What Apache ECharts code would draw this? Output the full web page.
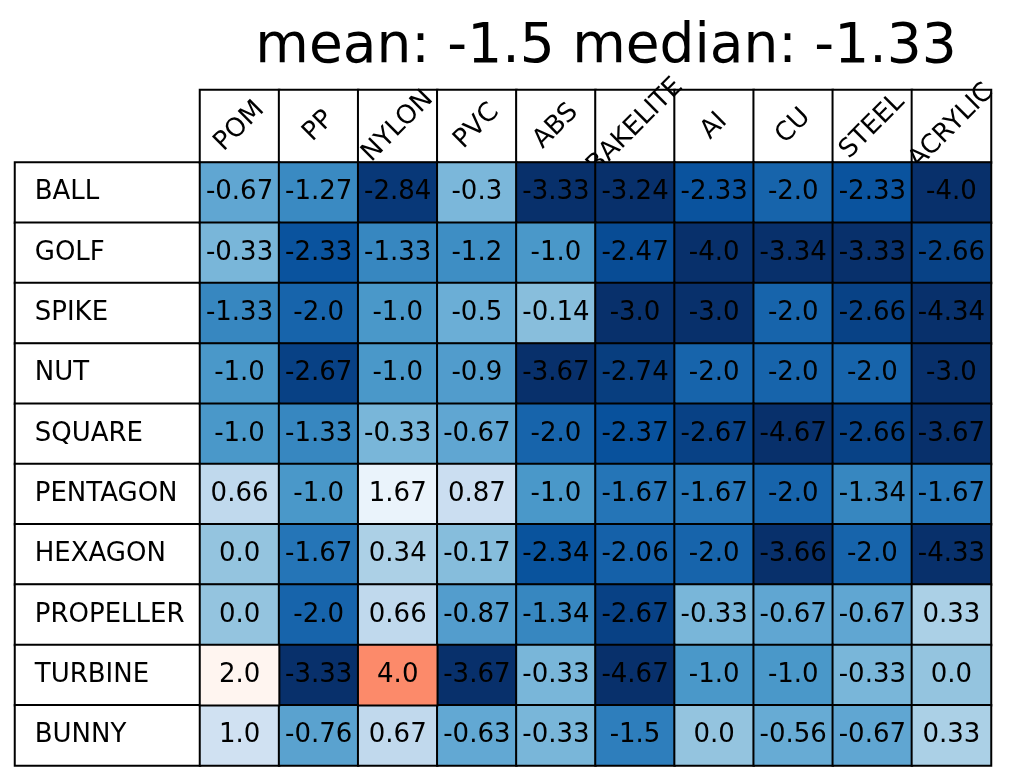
<!DOCTYPE html>
<html><head><meta charset="utf-8">
<script src="https://cdn.jsdelivr.net/npm/echarts@6/dist/echarts.min.js"></script>
<style>html,body{margin:0;padding:0;background:#fff}#c{width:1029px;height:772px}</style>
</head><body><div id="c"></div>
<script>
const titleText = 'mean: -1.5 median: -1.33';
const columns = ['POM','PP','NYLON','PVC','ABS','BAKELITE','AI','CU','STEEL','ACRYLIC'];
const rows = ['BALL','GOLF','SPIKE','NUT','SQUARE','PENTAGON','HEXAGON','PROPELLER','TURBINE','BUNNY'];
const vBALL      = [-0.67,-1.27,-2.84,-0.3,-3.33,-3.24,-2.33,-2.0,-2.33,-4.0];
const vGOLF      = [-0.33,-2.33,-1.33,-1.2,-1.0,-2.47,-4.0,-3.34,-3.33,-2.66];
const vSPIKE     = [-1.33,-2.0,-1.0,-0.5,-0.14,-3.0,-3.0,-2.0,-2.66,-4.34];
const vNUT       = [-1.0,-2.67,-1.0,-0.9,-3.67,-2.74,-2.0,-2.0,-2.0,-3.0];
const vSQUARE    = [-1.0,-1.33,-0.33,-0.67,-2.0,-2.37,-2.67,-4.67,-2.66,-3.67];
const vPENTAGON  = [0.66,-1.0,1.67,0.87,-1.0,-1.67,-1.67,-2.0,-1.34,-1.67];
const vHEXAGON   = [0.0,-1.67,0.34,-0.17,-2.34,-2.06,-2.0,-3.66,-2.0,-4.33];
const vPROPELLER = [0.0,-2.0,0.66,-0.87,-1.34,-2.67,-0.33,-0.67,-0.67,0.33];
const vTURBINE   = [2.0,-3.33,4.0,-3.67,-0.33,-4.67,-1.0,-1.0,-0.33,0.0];
const vBUNNY     = [1.0,-0.76,0.67,-0.63,-0.33,-1.5,0.0,-0.56,-0.67,0.33];
const matrix = [vBALL,vGOLF,vSPIKE,vNUT,vSQUARE,vPENTAGON,vHEXAGON,vPROPELLER,vTURBINE,vBUNNY];

const bluesR = ['#08306b','#08519c','#2171b5','#4292c6','#6baed6','#9ecae1','#c6dbef','#deebf7','#f7fbff'];
const reds = ['#fff5f0','#fee0d2','#fcbba1','#fc9272','#fb6a4a','#ef3b2c','#cb181d','#a50f15','#67000d'];

const fmt = v => Number.isInteger(v) ? v.toFixed(1) : String(v);
const low = [], high = [];
matrix.forEach((r, yi) => r.forEach((v, xi) => { (v < 2 ? low : high).push([xi, yi, v]); }));

const FONT = 'DejaVu Sans';
const FS = 26;
const cellStyle = { borderColor: '#000', borderWidth: 2 };
const dataLabel = { show: true, color: '#000', fontFamily: FONT, fontSize: FS, formatter: p => fmt(p.value[2]) };

const chart = echarts.init(document.getElementById('c'), null, { renderer: 'canvas' });
chart.setOption({
  animation: false,
  backgroundColor: '#fff',
  graphic: [{ type: 'text', x: 606, y: 48, style: { text: titleText, font: '55px "DejaVu Sans"', fill: '#000', textAlign: 'center', textVerticalAlign: 'middle' } }],
  grid: [
    { left: 200, top: 162.5, width: 791, height: 603 },
    { left: 15, top: 162.5, width: 185, height: 603 },
    { left: 200, top: 90, width: 791, height: 72.5 }
  ],
  xAxis: [
    { type: 'category', gridIndex: 0, data: columns, show: false },
    { type: 'category', gridIndex: 1, data: ['label'], show: false },
    { type: 'category', gridIndex: 2, data: columns, show: false }
  ],
  yAxis: [
    { type: 'category', gridIndex: 0, data: rows, inverse: true, show: false },
    { type: 'category', gridIndex: 1, data: rows, inverse: true, show: false },
    { type: 'category', gridIndex: 2, data: ['header'], show: false }
  ],
  visualMap: [
    { type: 'continuous', show: false, seriesIndex: 0, min: -3, max: 2, inRange: { color: bluesR } },
    { type: 'continuous', show: false, seriesIndex: 1, min: 2, max: 7, inRange: { color: reds } },
    { type: 'continuous', show: false, seriesIndex: [2, 3], min: 0, max: 1, inRange: { color: ['#ffffff', '#ffffff'] } }
  ],
  series: [
    { type: 'heatmap', xAxisIndex: 0, yAxisIndex: 0, zlevel: 1, z: 3, data: low, itemStyle: cellStyle, label: dataLabel, emphasis: { disabled: true } },
    { type: 'heatmap', xAxisIndex: 0, yAxisIndex: 0, zlevel: 1, z: 3, data: high, itemStyle: cellStyle, label: dataLabel, emphasis: { disabled: true } },
    { type: 'heatmap', xAxisIndex: 1, yAxisIndex: 1, z: 1,
      data: rows.map((r, i) => ({ name: r, value: [0, i, 0] })),
      itemStyle: cellStyle,
      label: { show: true, position: 'insideLeft', distance: 21, color: '#000', fontFamily: FONT, fontSize: FS, formatter: '{b}' },
      emphasis: { disabled: true } },
    { type: 'heatmap', xAxisIndex: 2, yAxisIndex: 2, z: 1,
      data: columns.map((c, i) => ({ name: c, value: [i, 0, 0] })),
      itemStyle: cellStyle,
      label: { show: true, rotate: 45, color: '#000', fontFamily: FONT, fontSize: FS, formatter: '{b}' },
      emphasis: { disabled: true } }
  ]
});
</script>
</body></html>
